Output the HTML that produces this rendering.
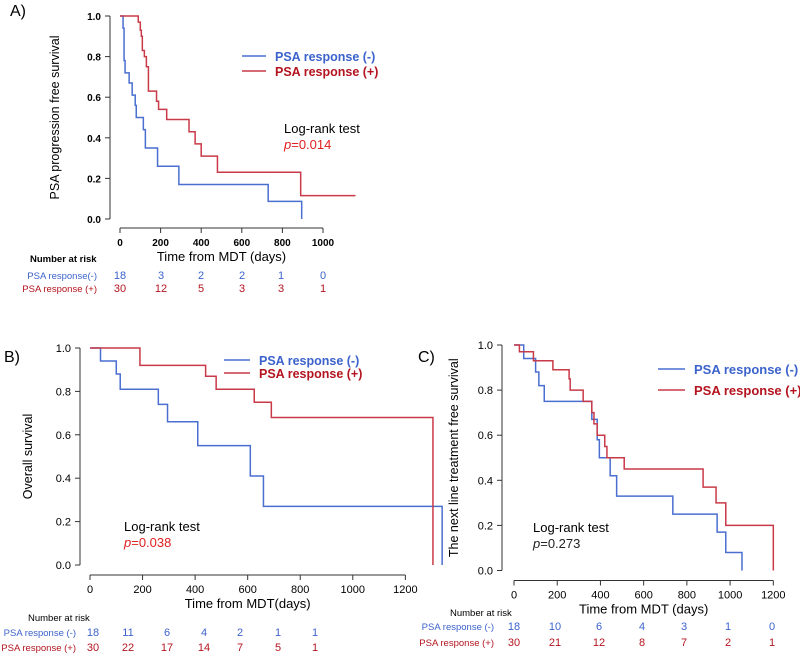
<!DOCTYPE html>
<html><head><meta charset="utf-8"><style>
body{margin:0;background:#fff}
svg{display:block;font-family:"Liberation Sans",Arial,sans-serif}
</style></head><body>
<svg id="s" width="800" height="653" viewBox="0 0 800 653" xmlns="http://www.w3.org/2000/svg">
<text x="10" y="16" font-size="16">A)</text>
<text x="4" y="362" font-size="16">B)</text>
<text x="418" y="362" font-size="16">C)</text>
</svg>
<script>
// Panel A data
const aBlueT=[0,15,20,25,45,60,75,80,115,125,185,290,730,895];
const aBlueS=[1,0.94,0.78,0.72,0.67,0.61,0.56,0.5,0.44,0.35,0.26,0.17,0.087,0];
const aRedT=[0,90,100,105,110,120,130,140,180,190,230,340,370,400,480,890,1160];
const aRedS=[1,0.97,0.93,0.9,0.83,0.8,0.75,0.63,0.58,0.54,0.49,0.43,0.37,0.31,0.23,0.115,0.115];
const aXTicks=[0,200,400,600,800,1000];
const aRiskNeg=["18","3","2","2","1","0"];
const aRiskPos=["30","12","5","3","3","1"];
// Panel B data
const bBlueT=[0,40,100,115,260,295,410,610,660,1340];
const bBlueS=[1,0.94,0.88,0.81,0.74,0.66,0.55,0.41,0.27,0];
const bRedT=[0,190,440,480,625,690,1305];
const bRedS=[1,0.92,0.87,0.81,0.75,0.68,0];
const bXTicks=[0,200,400,600,800,1000,1200];
const bRiskNeg=["18","11","6","4","2","1","1"];
const bRiskPos=["30","22","17","14","7","5","1"];
// Panel C data
const cBlueT=[0,45,100,115,140,360,385,395,445,475,735,940,980,1055];
const cBlueS=[1,0.94,0.88,0.82,0.75,0.67,0.58,0.5,0.42,0.33,0.25,0.17,0.08,0];
const cRedT=[0,25,90,180,255,260,320,360,370,385,420,430,510,875,935,980,1200];
const cRedS=[1,0.97,0.93,0.89,0.85,0.8,0.75,0.7,0.65,0.6,0.55,0.5,0.45,0.37,0.3,0.2,0];
const cXTicks=[0,200,400,600,800,1000,1200];
const cRiskNeg=["18","10","6","4","3","1","0"];
const cRiskPos=["30","21","12","8","7","2","1"];
const yTicks=[0,0.2,0.4,0.6,0.8,1.0];

const svg=document.getElementById('s');
const NS='http://www.w3.org/2000/svg';
const BLUE='#4a6fd0',RED='#c93a48',TBLUE='#3c63cc',TRED='#b3141f';
function mk(tag,attrs,txt){const e=document.createElementNS(NS,tag);for(const k in attrs)e.setAttribute(k,attrs[k]);if(txt!==undefined)e.textContent=txt;svg.appendChild(e);return e;}

function panel(p){
  const sx=t=>p.x0+t*p.kx, sy=v=>p.y0-v*(p.y0-p.y1);
  const g='panel-'+p.id;
  let e=mk('line',{x1:p.ax,y1:sy(1),x2:p.ax,y2:sy(0),stroke:'#333','stroke-width':1});
  
  
  const xe=sx(p.xt[p.xt.length-1]);
  e=mk('line',{x1:sx(0),y1:p.by,x2:xe,y2:p.by,stroke:'#333','stroke-width':1});
  
  
  yTicks.forEach(v=>{
    mk('line',{x1:p.ax-5,y1:sy(v),x2:p.ax,y2:sy(v),stroke:'#333'});
    e=mk('text',{x:p.ax-9,y:sy(v)+4,'font-size':p.bold?10:11,'text-anchor':'end','font-weight':p.bold?'bold':'normal'},v.toFixed(1));
    
    
  });
  p.xt.forEach(t=>{
    mk('line',{x1:sx(t),y1:p.by,x2:sx(t),y2:p.by+5,stroke:'#333'});
    e=mk('text',{x:sx(t),y:p.by+18,'font-size':p.bold?10:11,'text-anchor':'middle','font-weight':p.bold?'bold':'normal'},String(t));
    
    
  });
  e=mk('text',{x:(sx(0)+xe)/2,y:p.by+33,'font-size':13,'text-anchor':'middle'},p.xtitle);
  
  
  e=mk('text',{x:0,y:0,'font-size':12.5,'text-anchor':'middle',transform:`translate(${p.ytx},${(sy(0)+sy(1))/2}) rotate(-90)`},p.ytitle);
  
  
  [[p.bt,p.bs,BLUE,'blue'],[p.rt,p.rs,RED,'red']].forEach(([T,S,c,n])=>{
    let d=`M${sx(T[0])},${sy(S[0])}`;
    for(let i=1;i<T.length;i++){d+=` H${sx(T[i])} V${sy(S[i])}`;}
    e=mk('path',{d,fill:'none',stroke:c,'stroke-width':1.5});
    
    
  });
  e=mk('line',{x1:p.lx,y1:p.ly1,x2:p.lx+p.lw,y2:p.ly1,stroke:BLUE,'stroke-width':1.5});
  
  
  e=mk('text',{x:p.lx+p.lw+9,y:p.ly1+5,'font-size':p.lfs,'font-weight':'bold',fill:TBLUE},'PSA response (-)');
  
  
  e=mk('line',{x1:p.lx,y1:p.ly2,x2:p.lx+p.lw,y2:p.ly2,stroke:RED,'stroke-width':1.5});
  
  
  e=mk('text',{x:p.lx+p.lw+9,y:p.ly2+5,'font-size':p.lfs,'font-weight':'bold',fill:TRED},'PSA response (+)');
  
  
  e=mk('text',{x:p.tx,y:p.ty,'font-size':13},'Log-rank test');
  
  
  e=mk('text',{x:p.tx,y:p.ty+16,'font-size':13,fill:p.pcol});
  e.innerHTML='<tspan font-style="italic">p</tspan>='+p.pval;
  
  
  e=mk('text',{x:p.rtx,y:p.rty,'font-size':9.5,'font-weight':p.bold?'bold':'normal'},'Number at risk');
  
  
  e=mk('text',{x:p.rlx,y:p.ry1,'font-size':9.5,'text-anchor':'end',fill:TBLUE},p.negLabel);
  
  
  e=mk('text',{x:p.rlx,y:p.ry2,'font-size':9.5,'text-anchor':'end',fill:TRED},p.posLabel);
  
  
  p.neg.forEach((v,i)=>{
    e=mk('text',{x:p.rx[i],y:p.ry1,'font-size':11,'text-anchor':'middle',fill:TBLUE},v);
    
    
  });
  p.pos.forEach((v,i)=>{
    e=mk('text',{x:p.rx[i],y:p.ry2,'font-size':11,'text-anchor':'middle',fill:TRED},v);
    
    
  });
}

panel({id:'a',x0:120,kx:0.203,y0:219,y1:16,ax:110,by:228,bold:true,xt:aXTicks,
  xtitle:'Time from MDT (days)',ytitle:'PSA progression free survival',ytx:59,
  bt:aBlueT,bs:aBlueS,rt:aRedT,rs:aRedS,lx:242,lw:24,ly1:56,ly2:71,lfs:12.5,
  tx:284,ty:133,pval:'0.014',pcol:'#e02020',
  rtx:30,rty:262,rlx:97,ry1:279,ry2:292,negLabel:'PSA response(-)',posLabel:'PSA response (+)',
  rx:[120,161,201,242,281,323],neg:aRiskNeg,pos:aRiskPos});
panel({id:'b',x0:90,kx:0.2628,y0:565,y1:348,ax:80,by:575,bold:false,xt:bXTicks,
  xtitle:'Time from MDT(days)',ytitle:'Overall survival',ytx:32,
  bt:bBlueT,bs:bBlueS,rt:bRedT,rs:bRedS,lx:224,lw:26,ly1:360,ly2:373,lfs:12.5,
  tx:124,ty:531,pval:'0.038',pcol:'#e02020',
  rtx:28,rty:621,rlx:76,ry1:636,ry2:651,negLabel:'PSA response (-)',posLabel:'PSA response (+)',
  rx:[93,128,167,204,240,278,315],neg:bRiskNeg,pos:bRiskPos});
panel({id:'c',x0:514,kx:0.2161,y0:570.5,y1:345,ax:502,by:580.5,bold:false,xt:cXTicks,
  xtitle:'Time from MDT (days)',ytitle:'The next line treatment free survival',ytx:458,
  bt:cBlueT,bs:cBlueS,rt:cRedT,rs:cRedS,lx:658,lw:27,ly1:369,ly2:390,lfs:13,
  tx:533,ty:532,pval:'0.273',pcol:'#222',
  rtx:450,rty:616,rlx:494,ry1:630,ry2:646,negLabel:'PSA response (-)',posLabel:'PSA response (+)',
  rx:[514,555,599,642,684,728,772],neg:cRiskNeg,pos:cRiskPos});
</script>
</body></html>
